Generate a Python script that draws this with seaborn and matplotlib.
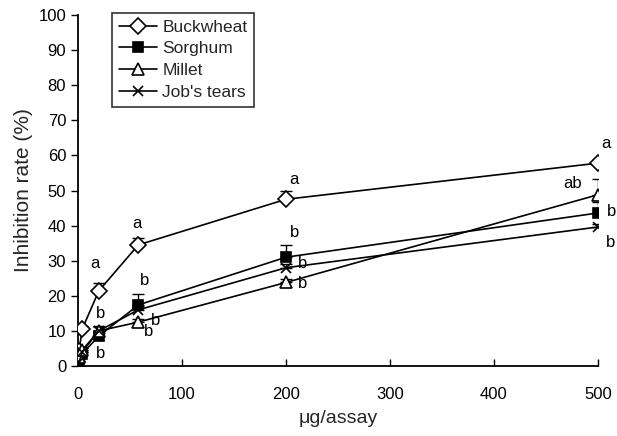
import numpy as np
import pandas as pd
import matplotlib
matplotlib.use("Agg")
import matplotlib.pyplot as plt
import seaborn as sns

# ---- data ----
doses = [1, 4, 20, 58, 200, 500]
buckwheat = [4.3, 10.5, 21.4, 34.5, 47.5, 57.8]
sorghum = [1.5, 3.5, 8.5, 17.4, 31.0, 43.6]
millet = [2.5, 4.5, 10.0, 12.5, 23.8, 48.8]
jobs_tears = [1.0, 4.0, 10.0, 16.0, 28.0, 39.6]
err_buckwheat = [0.5, 1.0, 2.2, 2.0, 2.3, 0.8]
err_sorghum = [0.5, 0.5, 1.0, 3.0, 3.5, 3.0]
err_millet = [0.5, 0.5, 1.5, 1.0, 1.0, 4.6]
err_jobs = [0.3, 0.5, 1.0, 1.0, 1.0, 0.8]
series_names = ["Buckwheat", "Sorghum", "Millet", "Job's tears"]

# significance letters: (x, y, text)
letter_x = [16, 22, 22, 57, 75, 68, 64, 208, 208, 216, 216, 508, 476, 513, 512]
letter_y = [29.3, 15, 3.7, 40.5, 13, 9.7, 24.5, 53, 38, 29.3, 23.6, 63.5, 52, 44, 35.3]
letter_t = ["a", "b", "b", "a", "b", "b", "b", "a", "b", "b", "b", "a", "ab", "b", "b"]

sns.set_theme(style="ticks")
plt.rcParams["font.family"] = ["Liberation Sans", "DejaVu Sans"]

fig = plt.figure(figsize=(6.17, 4.36), dpi=100)
ax = fig.add_axes([78 / 617, 1 - 366 / 436, 520 / 617, 351 / 436])

vals = [buckwheat, sorghum, millet, jobs_tears]
errs = [err_buckwheat, err_sorghum, err_millet, err_jobs]
markers = ["D", "s", "^", "x"]
msizes = [8, 7, 8, 7]
mfcs = ["white", "black", "white", "black"]

rows = []
for name, v in zip(series_names, vals):
    for d, y in zip(doses, v):
        rows.append({"dose": d, "rate": y, "grain": name})
df = pd.DataFrame(rows)

for name, v, e, m, ms, fc in zip(series_names, vals, errs, markers, msizes, mfcs):
    sub = df[df["grain"] == name]
    ax.errorbar(sub["dose"], sub["rate"], yerr=[np.zeros(len(e)), e],
                fmt="none", ecolor="black", elinewidth=1, capsize=4, capthick=1, zorder=2)
    sns.lineplot(data=sub, x="dose", y="rate", ax=ax, color="black", lw=1.2,
                 marker=m, markersize=ms, markerfacecolor=fc, markeredgecolor="black",
                 markeredgewidth=1.2, label=name, zorder=3)

for x, y, t in zip(letter_x, letter_y, letter_t):
    ax.text(x, y, t, fontsize=12, ha="center", va="center", color="black")

ax.set_xlim(0, 500)
ax.set_ylim(0, 100)
ax.set_xticks([0, 100, 200, 300, 400, 500])
ax.set_yticks(range(0, 101, 10))
ax.tick_params(axis="x", direction="in", length=5, width=1, labelsize=12, pad=15, colors="black")
ax.tick_params(axis="y", direction="out", length=5, width=1, labelsize=12, colors="black")
for s in ["top", "right"]:
    ax.spines[s].set_visible(False)
for s in ["left", "bottom"]:
    ax.spines[s].set_color("black")
    ax.spines[s].set_linewidth(1.3)
ax.set_xlabel("μg/assay", fontsize=14, labelpad=6)
ax.set_ylabel("Inhibition rate (%)", fontsize=15, labelpad=4)

leg = ax.legend(loc="upper left", bbox_to_anchor=(0.065, 1.007), borderaxespad=0,
                frameon=True, fancybox=False, fontsize=12.5, handlelength=2.2,
                labelspacing=0.38, borderpad=0.4, handletextpad=0.3)
leg.get_frame().set_edgecolor("black")
leg.get_frame().set_linewidth(1.2)

fig.savefig("out.png", dpi=100)
